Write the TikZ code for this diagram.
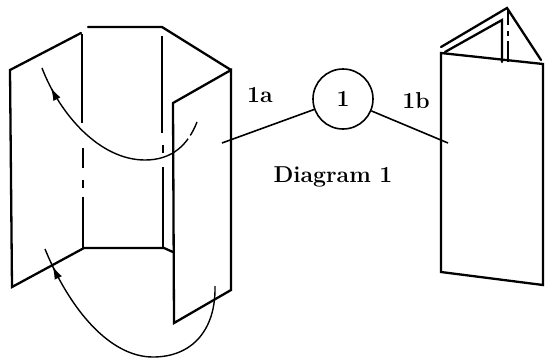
\documentclass[tikz,border=0pt]{standalone}
\usetikzlibrary{arrows.meta,decorations.markings}
\begin{document}
\begin{tikzpicture}[x=1pt,y=-1pt,
  edge/.style={line width=2.3pt,line cap=round,line join=miter},
  fold/.style={line width=2.3pt},
  turn/.style={line width=1.4pt},
  leader/.style={line width=1.6pt},
  midtip/.style={postaction={decorate},decoration={markings,
      mark=at position #1 with {\arrow{Latex[length=13pt,width=8pt]}}}},
  lbl/.style={font=\bfseries\fontsize{23}{23}\selectfont,inner sep=0pt}]
\useasboundingbox (0,0) rectangle (545,360);

% ---- left figure: three-panel screen ----
% left panel
\draw[edge] (81,33) -- (10,70) -- (12,287) -- (84,248) -- (164,248) -- (173,252);
% back panel top and right slope
\draw[edge] (88,27) -- (162,27) -- (231,70);
% front panel
\draw[edge] (231,70) -- (173,103) -- (174,323) -- (231,290) -- cycle;
% left fold line (dash-dot)
\draw[fold] (82,34) -- (82,123);
\draw[fold] (83,148) -- (83,168);
\draw[fold] (83,180) -- (83,188);
\draw[fold] (83,197) -- (83,248);
% back fold line (dash-dot)
\draw[fold] (162,36) -- (162,133);
\draw[fold] (163,145) -- (163,153);
\draw[fold] (163,167) -- (163,248);

% turning arrows
\draw[turn,midtip=0.9,dash pattern=on 15pt off 4pt on 600pt]
  (197,122) .. controls (188,145) and (172,160) .. (145,160)
            .. controls (100,160) and (60,115) .. (42,68);
\draw[turn,midtip=0.93]
  (215,286) .. controls (216,330) and (192,357) .. (153,357)
            .. controls (110,357) and (70,310) .. (45,249);

% ---- right figure: folded screen ----
\draw[edge] (441,53) -- (441,272) -- (543,285) -- (543,64) -- cycle;
\draw[edge] (441,47) -- (507,8) -- (541,60);
\draw[edge] (445,52) -- (502,20) -- (502,62);
\draw[fold] (508,10) -- (508,25);
\draw[fold] (508,31) -- (508,36);
\draw[fold] (508,41) -- (508,62);

% ---- labels ----
\node[draw,circle,line width=1.6pt,minimum size=60pt,inner sep=0pt,
      font=\bfseries\fontsize{23}{23}\selectfont] (c) at (343,99) {1};
\coordinate (a) at (222,143);
\coordinate (b) at (448,143);
\draw[leader] (a) -- (c);
\draw[leader] (c) -- (b);
\node[lbl] (la) at (260,95) {1a};
\node[lbl] (lb) at (416,101) {1b};
\node[lbl] (title) at (333,177) {Diagram 1};
\end{tikzpicture}
\end{document}
